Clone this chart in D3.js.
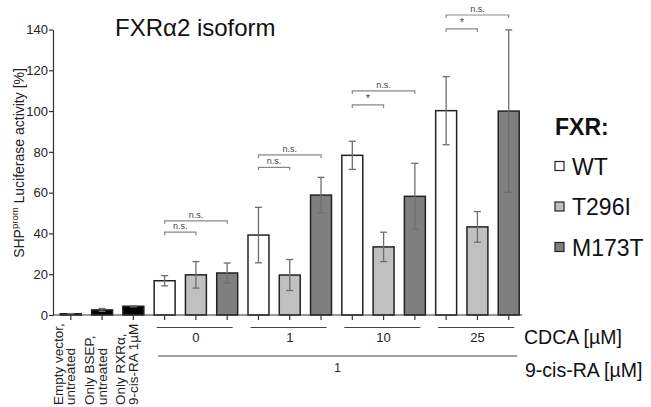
<!DOCTYPE html>
<html>
<head>
<meta charset="utf-8">
<script src="https://cdn.jsdelivr.net/npm/d3@7"></script>
<style>
  body { margin: 0; background: #fff; }
  svg { font-family: "Liberation Sans", Arial, sans-serif; }
</style>
</head>
<body>
<div id="chart"></div>
<script>
// control bars (left, black)
const controlLabels = [["Empty vector,", "untreated"], ["Only BSEP,", "untreated"], ["Only RXRα,", "9-cis-RA 1µM"]];
const controlValues = [0.6, 2.5, 4.3];
const controlErr = [0.1, 0.7, 0.3];

// FXR variants at each CDCA dose
const cdcaDoses = ["0", "1", "10", "25"];
const seriesNames = ["WT", "T296I", "M173T"];
const wtValues = [16.8, 39.2, 78.3, 100.2];
const wtErr = [2.5, 13.6, 6.9, 16.7];
const t296iValues = [19.7, 19.6, 33.4, 43.2];
const t296iErr = [6.5, 7.6, 7.2, 7.5];
const m173tValues = [20.6, 58.8, 58.2, 100];
const m173tErr = [4.9, 8.7, 16.2, 39.8];

// significance brackets (WT vs T296I = short, WT vs M173T = long)
const sigShort = ["n.s.", "n.s.", "*", "*"];
const sigLong = ["n.s.", "n.s.", "n.s.", "n.s."];
const sigShortLevel = [40.6, 72.4, 103, 140.3];
const sigLongLevel = [46.2, 78.5, 109.9, 147.1];

const yTicks = [0, 20, 40, 60, 80, 100, 120, 140];
const rxDose = "1";

const colors = {WT: "#ffffff", T296I: "#c0c0c0", M173T: "#7f7f7f"};

// flatten into bar list
const bars = [];
controlValues.forEach((v, i) => bars.push({i: bars.length, v: v, e: controlErr[i], fill: "#000"}));
const seriesVals = [wtValues, t296iValues, m173tValues];
const seriesErr = [wtErr, t296iErr, m173tErr];
cdcaDoses.forEach((d, g) => {
  seriesNames.forEach((s, k) => {
    bars.push({i: bars.length, v: seriesVals[k][g], e: seriesErr[k][g], fill: colors[s], group: g});
  });
});

const W = 651, H = 407;
const svg = d3.select('#chart').append('svg').attr('width', W).attr('height', H);

const x = d3.scaleBand()
  .domain(d3.range(bars.length))
  .range([55, 524.5])
  .paddingInner(0.33)
  .paddingOuter(0.17);
const y = d3.scaleLinear().domain([0, 140]).range([315, 29.5]);
const cx = i => x(i) + x.bandwidth() / 2;

// y axis
const yaxis = svg.append('g')
  .attr('transform', 'translate(53,0)')
  .call(d3.axisLeft(y).tickValues(yTicks).tickSize(4).tickSizeOuter(0).tickPadding(1));
yaxis.selectAll('path,line').attr('stroke', '#333').attr('stroke-width', 1.2);
yaxis.selectAll('text').attr('font-size', 13).attr('fill', '#222').attr('font-family', '"Liberation Sans", Arial, sans-serif');

// y label
const ylab = svg.append('text')
  .attr('transform', 'translate(24,163) rotate(-90)')
  .attr('text-anchor', 'middle')
  .attr('font-size', 14)
  .attr('fill', '#222');
ylab.append('tspan').text('SHP');
ylab.append('tspan').attr('font-size', 9.5).attr('dy', -6).text('prom');
ylab.append('tspan').attr('dy', 6).text(' Luciferase activity [%]');

// bars
svg.selectAll('.bar')
  .data(bars)
  .enter()
  .append('rect')
  .attr('class', 'bar')
  .attr('x', d => x(d.i))
  .attr('width', x.bandwidth())
  .attr('y', d => y(d.v))
  .attr('height', d => y(0) - y(d.v))
  .attr('fill', d => d.fill)
  .attr('stroke', '#222')
  .attr('stroke-width', 1.5);

// error bars
const eb = svg.selectAll('.err').data(bars).enter().append('g').attr('class', 'err')
  .attr('stroke', '#6e6e6e').attr('stroke-width', 1.3);
eb.append('line')
  .attr('x1', d => cx(d.i)).attr('x2', d => cx(d.i))
  .attr('y1', d => y(d.v + d.e)).attr('y2', d => y(d.v - d.e));
eb.append('line')
  .attr('x1', d => cx(d.i) - 3.5).attr('x2', d => cx(d.i) + 3.5)
  .attr('y1', d => y(d.v + d.e)).attr('y2', d => y(d.v + d.e));
eb.append('line')
  .attr('x1', d => cx(d.i) - 3.5).attr('x2', d => cx(d.i) + 3.5)
  .attr('y1', d => y(d.v - d.e)).attr('y2', d => y(d.v - d.e));

// x axis line + ticks
svg.append('line')
  .attr('x1', 53).attr('x2', 522).attr('y1', y(0)).attr('y2', y(0))
  .attr('stroke', '#333').attr('stroke-width', 1.2);
svg.selectAll('.xtick').data(bars).enter().append('line')
  .attr('x1', d => cx(d.i)).attr('x2', d => cx(d.i))
  .attr('y1', y(0)).attr('y2', y(0) + 5)
  .attr('stroke', '#333').attr('stroke-width', 1.2);

// control category labels (rotated), kept inside the picture
controlLabels.forEach((lines, i) => {
  lines.forEach((t, j) => {
    svg.append('text')
      .attr('transform', `translate(${cx(i) - 8 + j * 12.5},405) rotate(-90)`)
      .attr('font-size', 13.5)
      .attr('fill', '#222')
      .text(t);
  });
});

// significance brackets
const firstBar = controlValues.length;
cdcaDoses.forEach((d, g) => {
  const b0 = cx(firstBar + g * 3), b1 = cx(firstBar + g * 3 + 1), b2 = cx(firstBar + g * 3 + 2);
  [[b1, sigShortLevel[g], sigShort[g]], [b2, sigLongLevel[g], sigLong[g]]].forEach(([xe, lv, lab]) => {
    const yy = y(lv);
    svg.append('path')
      .attr('d', `M${b0},${yy + 3}V${yy}H${xe}V${yy + 3}`)
      .attr('fill', 'none').attr('stroke', '#888').attr('stroke-width', 1.2);
    svg.append('text')
      .attr('x', (b0 + xe) / 2).attr('y', yy - 3)
      .attr('text-anchor', 'middle')
      .attr('font-size', lab === '*' ? 11 : 9)
      .attr('fill', '#444')
      .text(lab);
  });
});

// CDCA group lines and labels
cdcaDoses.forEach((d, g) => {
  const a = cx(firstBar + g * 3), b = cx(firstBar + g * 3 + 2);
  svg.append('line')
    .attr('x1', a - 8).attr('x2', b + 5.5).attr('y1', 327.5).attr('y2', 327.5)
    .attr('stroke', '#444').attr('stroke-width', 1.2);
  svg.append('text')
    .attr('x', (a + b) / 2).attr('y', 341.5)
    .attr('text-anchor', 'middle').attr('font-size', 13).attr('fill', '#222')
    .text(d);
});
svg.append('text').attr('x', 524).attr('y', 343.5).attr('font-size', 19.5).attr('fill', '#111').text('CDCA [µM]');

// 9-cis-RA line
const ra0 = cx(firstBar) - 6.5, ra1 = cx(bars.length - 1) + 8.5;
svg.append('line')
  .attr('x1', ra0).attr('x2', ra1).attr('y1', 356).attr('y2', 356)
  .attr('stroke', '#444').attr('stroke-width', 1.2);
svg.append('text')
  .attr('x', (ra0 + ra1) / 2).attr('y', 372)
  .attr('text-anchor', 'middle').attr('font-size', 12).attr('fill', '#222')
  .text(rxDose);
svg.append('text').attr('x', 525).attr('y', 377).attr('font-size', 19.5).attr('fill', '#111').text('9-cis-RA [µM]');

// title
svg.append('text').attr('x', 115).attr('y', 36).attr('font-size', 24).attr('fill', '#111').text('FXRα2 isoform');

// legend
svg.append('text').attr('x', 555).attr('y', 135).attr('font-size', 23).attr('font-weight', 'bold').attr('fill', '#111').text('FXR:');
seriesNames.forEach((s, k) => {
  const yc = 166 + k * 40.5;
  svg.append('rect')
    .attr('x', 555).attr('y', yc - 4.5).attr('width', 9).attr('height', 9)
    .attr('fill', colors[s]).attr('stroke', '#222').attr('stroke-width', 1.2);
  svg.append('text').attr('x', 572).attr('y', yc + 8.5).attr('font-size', 23).attr('fill', '#111').text(s);
});
</script>
</body>
</html>
